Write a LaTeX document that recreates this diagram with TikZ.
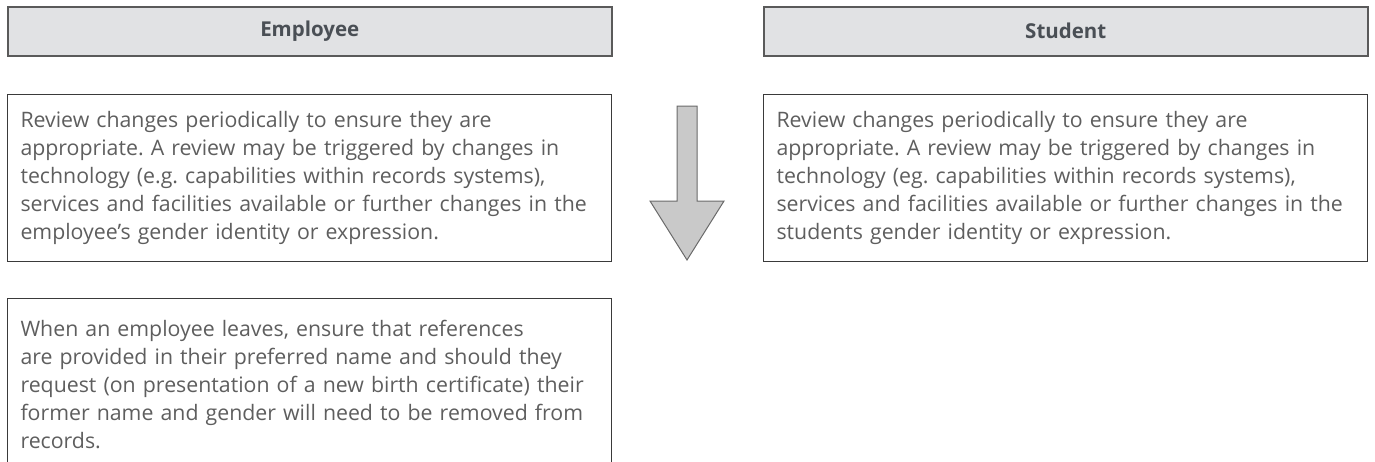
\documentclass[tikz,border=0pt]{standalone}
\usepackage{fontspec}
\setmainfont{Open Sans}
\frenchspacing
\usetikzlibrary{positioning}
\definecolor{headfill}{HTML}{E1E2E4}
\definecolor{headline}{HTML}{5A5A5A}
\definecolor{headtext}{HTML}{4A4F55}
\definecolor{boxline}{HTML}{3A3A3A}
\definecolor{bodytext}{HTML}{5E5E5E}
\definecolor{arrowfill}{HTML}{C9C9C9}
\definecolor{arrowline}{HTML}{6A6A6A}
\tikzset{
  headnode/.style={draw=headline, fill=headfill, line width=1.5pt, anchor=north west,
                   minimum width=604pt, minimum height=49pt, inner sep=0pt,
                   font=\bfseries\fontsize{20.5}{24}\selectfont, text=headtext},
  txtnode/.style={draw=boxline, line width=1pt, anchor=north west, text width=578pt,
                  inner xsep=13pt, align=left, font=\fontsize{21.3}{27.8}\selectfont, text=bodytext},
  downarrow/.style={draw=arrowline, fill=arrowfill, line width=1pt, line join=miter},
}

\begin{document}
\begin{tikzpicture}[x=1pt, y=-1pt]
\useasboundingbox (0,0) rectangle (1375,461);

%column heads
\node[headnode] (emphead) at (7,6)   {Employee};
\node[headnode] (stuhead) at (763,6) {Student};

%review boxes
\node[txtnode, minimum height=167pt] (empreview) at (7,94) {%
  Review changes periodically to ensure they are\\
  appropriate. A review may be triggered by changes in\\
  technology (e.g. capabilities within records systems),\\
  services and facilities available or further changes in the\\
  employee's gender identity or expression.};
\node[txtnode, minimum height=167pt] (stureview) at (763,94) {%
  Review changes periodically to ensure they are\\
  appropriate. A review may be triggered by changes in\\
  technology (eg. capabilities within records systems),\\
  services and facilities available or further changes in the\\
  students gender identity or expression.};

%leaving box, runs off the bottom
\node[txtnode, minimum height=172pt] (empleave) at (7,298) {%
  When an employee leaves, ensure that references\\
  are provided in their preferred name and should they\\
  request (on presentation of a new birth certificate) their\\
  former name and gender will need to be removed from\\
  records.};

%block arrow between the columns
\draw[downarrow] (677,106) -- (697,106) -- (697,201) -- (724,201)
                 -- (687,260) -- (650,201) -- (677,201) -- cycle;
\end{tikzpicture}
\end{document}
